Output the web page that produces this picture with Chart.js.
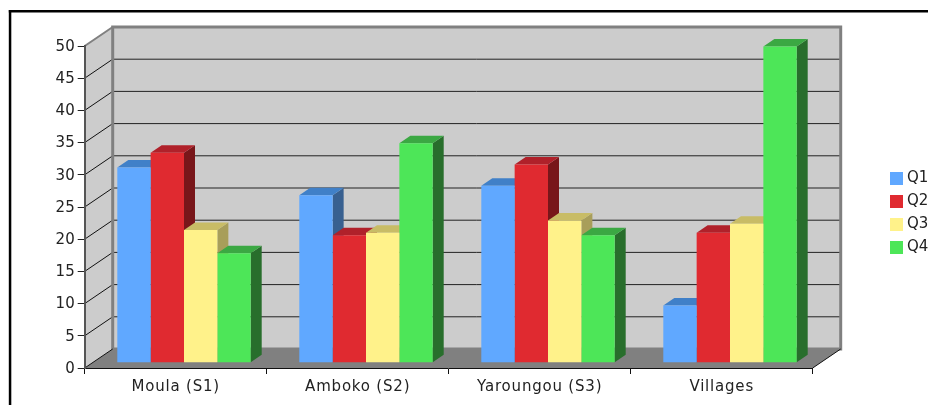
<!DOCTYPE html>
<html>
<head>
<meta charset="utf-8">
<title>Chart</title>
<script src="https://cdn.jsdelivr.net/npm/chart.js@4/dist/chart.umd.min.js"></script>
<style>
    html, body { margin: 0; padding: 0; background: #fff; overflow: hidden; }
    #chartCanvas { position: absolute; left: 0; top: 0; display: block; }
</style>
</head>
<body>
<canvas id="chartCanvas" width="928" height="405"></canvas>
<script>
const categories = ['Moula (S1)', 'Amboko (S2)', 'Yaroungou (S3)', 'Villages'];
const seriesNames = ['Q1', 'Q2', 'Q3', 'Q4'];
const q1Values = [30.3, 26.0, 27.5, 8.9];
const q2Values = [32.6, 19.8, 30.8, 20.2];
const q3Values = [20.6, 20.2, 22.1, 21.6];
const q4Values = [17.0, 34.1, 19.8, 49.1];
const yTicks = [0, 5, 10, 15, 20, 25, 30, 35, 40, 45, 50];

const frontColors = ['#60a8ff', '#e02a30', '#fff28a', '#4de658'];
const topColors = ['#4080c8', '#b0212a', '#c8bc66', '#3ba843'];
const sideColors = ['#386090', '#78161a', '#a89e5a', '#286e2c'];

// depth of the box and of the bars, in pixels
const WALL_DX = 28, WALL_DY = -19;
const BAR_DX = 11, BAR_DY = -7.5;
const SHIFT_X = 8.3, SHIFT_Y = -5.25;

function polygon(ctx, points, fill) {
    ctx.beginPath();
    points.forEach((p, i) => i ? ctx.lineTo(p[0], p[1]) : ctx.moveTo(p[0], p[1]));
    ctx.closePath();
    ctx.fillStyle = fill;
    ctx.fill();
}

function segment(ctx, x1, y1, x2, y2, color, width) {
    ctx.beginPath();
    ctx.moveTo(x1, y1);
    ctx.lineTo(x2, y2);
    ctx.strokeStyle = color;
    ctx.lineWidth = width;
    ctx.stroke();
}

const boxPlugin = {
    id: 'box3d',
    afterLayout(chart) {
        // the legend sits in the right margin, outside the chart area
        const legend = chart.legend;
        legend.left = 882;
        legend.right = 928.3;
        legend.top = 163;
        legend.bottom = 405;
    },
    beforeDraw(chart) {
        const ctx = chart.ctx;
        const area = chart.chartArea;
        const y = chart.scales.y;
        const left = area.left, right = area.right, top = area.top, bottom = area.bottom;
        const backL = left + WALL_DX, backR = right + WALL_DX;
        const backT = top + WALL_DY, backB = bottom + WALL_DY;

        ctx.save();
        // outer frame, it runs off the picture on the right and at the bottom
        ctx.fillStyle = '#000';
        ctx.fillRect(8.8, 10, 2.5, 395);
        ctx.fillRect(8.8, 10, 920, 2.5);

        polygon(ctx, [[left, bottom], [backL, backB], [backL, backT], [left, top]], '#cccccc');
        polygon(ctx, [[backL, backT], [backR, backT], [backR, backB], [backL, backB]], '#cccccc');
        polygon(ctx, [[left, bottom], [right, bottom], [backR, backB], [backL, backB]], '#808080');

        yTicks.forEach(value => {
            if (value === 0 || value === 50) return;
            const py = y.getPixelForValue(value);
            segment(ctx, left, py, backL, py + WALL_DY, '#111', 1);
            segment(ctx, backL, py + WALL_DY, backR, py + WALL_DY, '#222', 1);
        });

        ctx.strokeStyle = '#808080';
        ctx.lineWidth = 3;
        ctx.strokeRect(backL, backT, backR - backL, backB - backT);
        segment(ctx, left, top, backL, backT, '#808080', 2);
        segment(ctx, left, bottom, backL, backB, '#111', 1);
        segment(ctx, right, bottom, backR, backB, '#111', 1);
        ctx.restore();
    },
    beforeDatasetsDraw(chart) {
        const ctx = chart.ctx;
        ctx.save();
        ctx.translate(SHIFT_X, SHIFT_Y);
        chart.data.datasets.forEach((dataset, d) => {
            chart.getDatasetMeta(d).data.forEach(bar => {
                const l = bar.x - bar.width / 2, r = bar.x + bar.width / 2;
                polygon(ctx, [[r, bar.base], [r + BAR_DX, bar.base + BAR_DY], [r + BAR_DX, bar.y + BAR_DY], [r, bar.y]], sideColors[d]);
                polygon(ctx, [[l, bar.y], [l + BAR_DX, bar.y + BAR_DY], [r + BAR_DX, bar.y + BAR_DY], [r, bar.y]], topColors[d]);
            });
        });
    },
    afterDatasetsDraw(chart) {
        chart.ctx.restore();
        // category labels are wider spaced than the value labels
        chart.ctx.letterSpacing = '0.8px';
    },
    afterDraw(chart) {
        chart.ctx.letterSpacing = '0px';
    }
};

Chart.defaults.font.family = '"DejaVu Sans", Verdana, sans-serif';
Chart.defaults.font.size = 15;
Chart.defaults.color = '#222';

new Chart(document.getElementById('chartCanvas').getContext('2d'), {
    type: 'bar',
    data: {
        labels: categories,
        datasets: [q1Values, q2Values, q3Values, q4Values].map((values, i) => ({
            label: seriesNames[i],
            data: values,
            backgroundColor: frontColors[i],
            borderWidth: 0,
            barPercentage: 1,
            categoryPercentage: 0.733,
            clip: false
        }))
    },
    options: {
        responsive: false,
        animation: false,
        layout: { padding: { left: 0, top: 46, right: 115.3, bottom: 0 } },
        plugins: {
            tooltip: { enabled: false },
            legend: {
                position: 'chartArea',
                align: 'start',
                labels: { boxWidth: 13, boxHeight: 13, padding: 8, textAlign: 'right', color: '#222' }
            }
        },
        scales: {
            x: {
                grid: { drawOnChartArea: false, tickLength: 6, tickColor: '#111', offset: true },
                border: { color: '#111', width: 1 },
                // z above the datasets, so the letter spacing set after them applies here only
                ticks: { padding: 4, maxRotation: 0, color: '#222', z: 1 },
                afterFit(scale) { scale.height = 37; }
            },
            y: {
                min: 0,
                max: 50,
                grid: { drawOnChartArea: false, tickLength: 7, tickColor: '#222' },
                border: { color: '#555', width: 2 },
                ticks: { stepSize: 5, padding: 3, color: '#222', labelOffset: 1 },
                afterFit(scale) { scale.width = 84.7; }
            }
        }
    },
    plugins: [boxPlugin]
});
</script>
</body>
</html>
